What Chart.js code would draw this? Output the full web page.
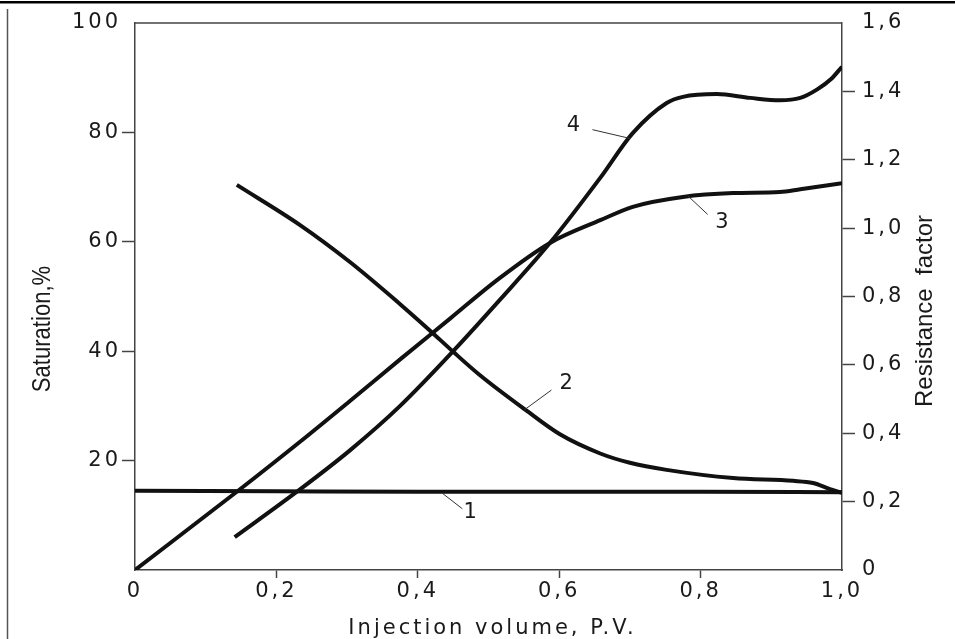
<!DOCTYPE html>
<html>
<head>
<meta charset="utf-8">
<script src="https://cdn.jsdelivr.net/npm/chart.js@4.4.1/dist/chart.umd.min.js"></script>
<style>
    html, body { margin: 0; padding: 0; background: #fff; }
    #wrap { width: 955px; height: 639px; position: relative; }
</style>
</head>
<body>
<div id="wrap"><canvas id="the-graph" width="955" height="639"></canvas></div>
<script>
/*
 *  Data
 */

// curve 1 - saturation, %
let s1X = [0, 0.2, 0.4, 0.6, 0.8, 1.0];
let s1Y = [14.5, 14.4, 14.3, 14.3, 14.3, 14.2];

// curve 2 - saturation, %
let s2X = [0.144, 0.233, 0.304, 0.375, 0.417, 0.45, 0.488, 0.552, 0.601, 0.658, 0.70, 0.752, 0.846, 0.931, 0.959, 0.983, 1.0];
let s2Y = [70.4, 63.1, 56.3, 48.6, 43.8, 39.9, 35.6, 29.3, 24.8, 21.3, 19.6, 18.3, 16.8, 16.3, 15.9, 14.8, 14.1];

// curve 3 - saturation, %
let s3X = [0, 0.144, 0.233, 0.304, 0.375, 0.446, 0.512, 0.587, 0.659, 0.704, 0.775, 0.846, 0.912, 0.941, 1.0];
let s3Y = [0, 14.3, 23.4, 30.9, 38.5, 46.0, 53.0, 59.8, 64.0, 66.4, 68.2, 68.9, 69.1, 69.6, 70.7];

// curve 4 - resistance factor
let s4X = [0.141, 0.229, 0.304, 0.375, 0.45, 0.516, 0.587, 0.658, 0.704, 0.752, 0.775, 0.823, 0.87, 0.912, 0.941, 0.965, 0.985, 1.0];
let s4Y = [0.096, 0.229, 0.350, 0.480, 0.640, 0.790, 0.957, 1.147, 1.278, 1.366, 1.384, 1.392, 1.381, 1.374, 1.381, 1.406, 1.437, 1.472];

// curve numbers: text position and leader line (x, saturation %)
let curveLabels = [
    {text: '1', x: 0.474, y: 10.5, from: [0.434, 14.1], to: [0.463, 11.2]},
    {text: '2', x: 0.610, y: 34.0, from: [0.551, 29.3], to: [0.589, 32.9]},
    {text: '3', x: 0.830, y: 63.6, from: [0.782, 68.4], to: [0.810, 65.0]},
    {text: '4', x: 0.620, y: 81.2, from: [0.647, 80.5], to: [0.700, 78.9]}
];

let xTitle = 'Injection volume, P.V.';
let yTitle = 'Saturation,%';
let y1Title = 'Resistance  factor';

const INK = '#111';
const AXIS = '#444';
const TEXT = '#1a1a1a';

function pts(xs, ys)
{
    return xs.map((x, i) => ({x: x, y: ys[i]}));
}

function comma(v)
{
    if(Math.abs(v) < 1e-9) return '0';
    return v.toFixed(1).replace('.', ',');
}

function curve(label, xs, ys, axis)
{
    return {
        label: label,
        data: pts(xs, ys),
        yAxisID: axis,
        borderColor: INK,
        borderWidth: 4,
        pointRadius: 0,
        cubicInterpolationMode: 'monotone',
        fill: false
    };
}

/*
 *  Plugin: frame, titles, curve numbers
 */

const decorations = {
    id: 'decorations',
    beforeDraw(chart) {
        chart.ctx.letterSpacing = '3px';
    },
    afterDraw(chart) {
        const ctx = chart.ctx;
        const a = chart.chartArea;
        const sx = chart.scales.x, sy = chart.scales.y;
        ctx.save();
        ctx.letterSpacing = '0px';

        // image frame
        ctx.fillStyle = '#000';
        ctx.fillRect(0, 1, 955, 2.5);
        ctx.strokeStyle = '#555';
        ctx.lineWidth = 1.5;
        ctx.beginPath();
        ctx.moveTo(7.5, 9);
        ctx.lineTo(7.5, 639);
        ctx.stroke();

        // top edge of plot box
        ctx.strokeStyle = AXIS;
        ctx.lineWidth = 1.5;
        ctx.beginPath();
        ctx.moveTo(a.left, a.top);
        ctx.lineTo(a.right, a.top);
        ctx.stroke();

        // curve numbers
        ctx.fillStyle = TEXT;
        ctx.font = '21px "DejaVu Sans"';
        ctx.textAlign = 'center';
        ctx.textBaseline = 'middle';
        curveLabels.forEach(l => {
            ctx.fillText(l.text, sx.getPixelForValue(l.x), sy.getPixelForValue(l.y));
            ctx.strokeStyle = '#333';
            ctx.lineWidth = 1;
            ctx.beginPath();
            ctx.moveTo(sx.getPixelForValue(l.from[0]), sy.getPixelForValue(l.from[1]));
            ctx.lineTo(sx.getPixelForValue(l.to[0]), sy.getPixelForValue(l.to[1]));
            ctx.stroke();
        });

        // axis titles
        ctx.letterSpacing = '3px';
        ctx.font = '21px "DejaVu Sans"';
        ctx.fillText(xTitle, (a.left + a.right) / 2 + 4, 629);

        ctx.letterSpacing = '0px';
        ctx.font = '26px "Liberation Sans Narrow", "Liberation Sans"';
        ctx.save();
        ctx.translate(43, 329);
        ctx.rotate(-Math.PI / 2);
        ctx.scale(0.85, 1);
        ctx.fillText(yTitle, 0, 0);
        ctx.restore();

        ctx.save();
        ctx.translate(925, 311);
        ctx.rotate(-Math.PI / 2);
        ctx.font = '24px "Liberation Sans Narrow", "Liberation Sans"';
        ctx.fillText(y1Title, 0, 0);
        ctx.restore();

        ctx.restore();
    }
};

/*
 *  Chart
 */

document.addEventListener('DOMContentLoaded', () => {
    const content = document.getElementById('the-graph').getContext('2d');
    const tickFont = {family: 'DejaVu Sans', size: 21};

    new Chart(content, {
        type: 'line',
        data: {
            datasets: [
                curve('1', s1X, s1Y, 'y'),
                curve('2', s2X, s2Y, 'y'),
                curve('3', s3X, s3Y, 'y'),
                curve('4', s4X, s4Y, 'y1')
            ]
        },
        options: {
            responsive: false,
            animation: false,
            layout: {padding: {top: 23, left: 0, right: 0, bottom: 0}},
            plugins: {
                legend: {display: false},
                tooltip: {enabled: false}
            },
            scales: {
                x: {
                    type: 'linear',
                    min: 0,
                    max: 1,
                    afterFit: s => { s.height = 69; },
                    ticks: {
                        stepSize: 0.2,
                        color: TEXT,
                        font: tickFont,
                        padding: 1,
                        maxRotation: 0,
                        callback: v => comma(v)
                    },
                    grid: {
                        drawOnChartArea: false,
                        tickLength: 8,
                        tickWidth: 1.5,
                        tickColor: c => (c.tick && (c.tick.value < 0.01 || c.tick.value > 0.99)) ? 'transparent' : AXIS
                    },
                    border: {color: AXIS, width: 1.5}
                },
                y: {
                    position: 'left',
                    min: 0,
                    max: 100,
                    afterFit: s => { s.width = 135; },
                    ticks: {
                        stepSize: 20,
                        color: TEXT,
                        font: tickFont,
                        padding: 1,
                        callback: v => v === 0 ? '' : v
                    },
                    grid: {
                        drawOnChartArea: false,
                        tickLength: 13,
                        tickWidth: 1.5,
                        tickColor: c => (c.tick && (c.tick.value === 0 || c.tick.value === 100)) ? 'transparent' : AXIS
                    },
                    border: {color: AXIS, width: 1.5}
                },
                y1: {
                    position: 'right',
                    min: 0,
                    max: 1.6,
                    afterFit: s => { s.width = 113; },
                    ticks: {
                        stepSize: 0.2,
                        color: TEXT,
                        font: tickFont,
                        padding: 7,
                        callback: v => comma(v)
                    },
                    grid: {
                        drawOnChartArea: false,
                        tickLength: 13,
                        tickWidth: 1.5,
                        tickColor: c => (c.tick && (c.tick.value < 0.01 || c.tick.value > 1.59)) ? 'transparent' : AXIS
                    },
                    border: {color: AXIS, width: 1.5}
                }
            }
        },
        plugins: [decorations]
    });
});
</script>
</body>
</html>
